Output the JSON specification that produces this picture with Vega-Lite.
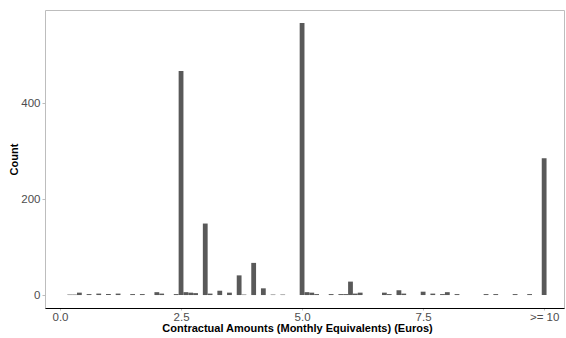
{
  "$schema": "https://vega.github.io/schema/vega-lite/v6.json",
  "width": 519,
  "height": 298,
  "autosize": {"type": "none"},
  "padding": {"left": 45, "top": 10, "right": 2, "bottom": 30},
  "background": "white",
  "config": {
    "font": "Liberation Sans",
    "view": {"stroke": "#bdbdbd", "strokeWidth": 1}
  },
  "data": {
    "values": [
      {"amount": 0.2, "count": 1}, {"amount": 0.3, "count": 1}, {"amount": 0.4, "count": 5},
      {"amount": 0.6, "count": 2}, {"amount": 0.8, "count": 3}, {"amount": 1.0, "count": 2},
      {"amount": 1.2, "count": 3}, {"amount": 1.5, "count": 2}, {"amount": 1.7, "count": 2},
      {"amount": 2.0, "count": 6}, {"amount": 2.1, "count": 3}, {"amount": 2.4, "count": 2},
      {"amount": 2.5, "count": 467}, {"amount": 2.6, "count": 6}, {"amount": 2.7, "count": 5},
      {"amount": 2.8, "count": 4}, {"amount": 3.0, "count": 149}, {"amount": 3.1, "count": 3},
      {"amount": 3.3, "count": 9}, {"amount": 3.5, "count": 5}, {"amount": 3.7, "count": 41},
      {"amount": 3.8, "count": 1}, {"amount": 4.0, "count": 67}, {"amount": 4.2, "count": 14},
      {"amount": 4.4, "count": 1}, {"amount": 4.6, "count": 1}, {"amount": 5.0, "count": 567},
      {"amount": 5.1, "count": 6}, {"amount": 5.2, "count": 5}, {"amount": 5.3, "count": 2},
      {"amount": 5.6, "count": 2}, {"amount": 5.8, "count": 2}, {"amount": 5.9, "count": 2},
      {"amount": 6.0, "count": 28}, {"amount": 6.1, "count": 3}, {"amount": 6.2, "count": 5},
      {"amount": 6.7, "count": 5}, {"amount": 6.8, "count": 2}, {"amount": 7.0, "count": 10},
      {"amount": 7.1, "count": 3}, {"amount": 7.5, "count": 7}, {"amount": 7.7, "count": 3},
      {"amount": 7.9, "count": 2}, {"amount": 8.0, "count": 6}, {"amount": 8.2, "count": 2},
      {"amount": 8.8, "count": 2}, {"amount": 9.0, "count": 2}, {"amount": 9.4, "count": 2},
      {"amount": 9.7, "count": 2}, {"amount": 10.0, "count": 285}
    ]
  },
  "mark": {"type": "bar", "orient": "vertical", "size": 4.8, "color": "#595959"},
  "encoding": {
    "x": {
      "field": "amount",
      "type": "quantitative",
      "scale": {"domain": [-0.31, 10.41], "nice": false, "zero": false, "padding": 0},
      "axis": {
        "values": [0, 2.5, 5, 7.5, 10],
        "labelExpr": "datum.value == 10 ? '>= 10' : format(datum.value, '.1f')",
        "title": "Contractual Amounts (Monthly Equivalents) (Euros)",
        "titleFontSize": 11,
        "titleFontWeight": "bold",
        "titleColor": "black",
        "titlePadding": 0,
        "titleX": 252,
        "labelFontSize": 11.5,
        "labelColor": "#4d4d4d",
        "labelPadding": 1,
        "domainColor": "black",
        "domainWidth": 1,
        "tickColor": "#bdbdbd",
        "tickSize": 2,
        "grid": false
      }
    },
    "y": {
      "field": "count",
      "type": "quantitative",
      "scale": {"domain": [-27, 594], "nice": false, "zero": false},
      "axis": {
        "values": [0, 200, 400],
        "title": "Count",
        "titleFontSize": 11,
        "titleFontWeight": "bold",
        "titleColor": "black",
        "titlePadding": 1,
        "labelFontSize": 11.5,
        "labelColor": "#4d4d4d",
        "labelPadding": 2,
        "domain": false,
        "tickColor": "#bdbdbd",
        "tickSize": 3,
        "grid": false
      }
    }
  }
}
